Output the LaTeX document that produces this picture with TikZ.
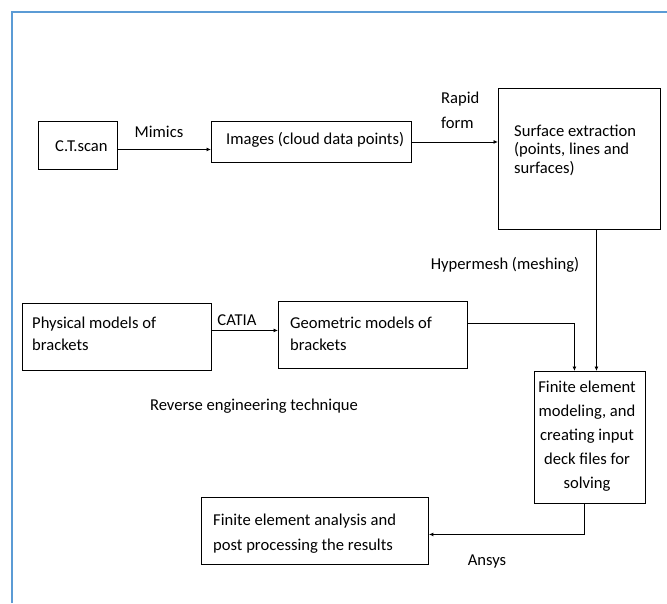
\documentclass[tikz,border=0pt]{standalone}
\usepackage{fontspec}
\setmainfont{Carlito}
\usetikzlibrary{arrows.meta}
\definecolor{frameblue}{RGB}{91,155,213}
\begin{document}
\begin{tikzpicture}[x=1pt,y=-1pt,
 box/.style={draw, line width=0.9pt, inner sep=0pt, anchor=north west},
 txt/.style={inner sep=0pt, font=\fontsize{16.6}{19}\selectfont, align=left},
 lbl/.style={inner sep=0pt, font=\fontsize{16.6}{19}\selectfont},
 arr/.style={line width=0.9pt, -{Latex[length=4.5pt,width=4pt]}}]
\useasboundingbox (0,0) rectangle (667,603);
\draw[frameblue, line width=2pt] (11.5,603) -- (11.5,11.5) -- (667,11.5);
% boxes
\node[box, minimum width=79pt, minimum height=48pt] (ct) at (38,121) {};
\node[box, minimum width=200pt, minimum height=41pt] (img) at (211,121) {};
\node[box, minimum width=162pt, minimum height=141pt] (surf) at (498,88) {};
\node[box, minimum width=189pt, minimum height=67pt] (phys) at (22,303) {};
\node[box, minimum width=189pt, minimum height=67pt] (geo) at (278,301) {};
\node[box, minimum width=111pt, minimum height=132pt] (fem) at (534,371) {};
\node[box, minimum width=227pt, minimum height=67pt] (fea) at (201,497) {};
% box texts
\node[txt, anchor=west] (ctt) at (55,146) {C.T.scan};
\node[txt, anchor=west] (imgt) at (226,140) {Images (cloud data points)};
\node[txt, anchor=west, font=\fontsize{16.6}{18.5}\selectfont] (surft) at (514,150) {Surface extraction\\(points, lines and\\surfaces)};
\node[txt, anchor=west, font=\fontsize{16.6}{22}\selectfont] (physt) at (32,334) {Physical models of\\brackets};
\node[txt, anchor=west, font=\fontsize{16.6}{22}\selectfont] (geot) at (290,334) {Geometric models of\\brackets};
\node[txt, align=center, font=\fontsize{16.6}{24}\selectfont] (femt) at (587,436) {Finite element\\modeling, and\\creating input\\deck files for\\solving};
\node[txt, anchor=west, font=\fontsize{16.6}{25}\selectfont] (feat) at (213,534) {Finite element analysis and\\post processing the results};
% labels
\node[lbl] (mimics) at (159,132) {Mimics};
\node[txt, anchor=west, font=\fontsize{16.6}{25}\selectfont] (rapid) at (441,110.5) {Rapid\\form};
\node[lbl] (hyper) at (505,265) {Hypermesh (meshing)};
\node[lbl] (catia) at (237,320) {CATIA};
\node[lbl] (reverse) at (254,406) {Reverse engineering technique};
\node[lbl] (ansys) at (487,562) {Ansys};
% connectors
\draw[arr] ([yshift=-4pt]ct.east) -- ([yshift=-4pt]ct.east -| img.west);
\draw[arr] (img.east) -- (img.east -| surf.west);
\draw[arr] ([xshift=17pt]surf.south) -- ([xshift=17pt]surf.south |- fem.north);
\draw[arr] ([yshift=6.5pt]phys.east) -- ([yshift=6.5pt]phys.east -| geo.west);
\draw[arr] ([yshift=11.5pt]geo.east) -| ([xshift=-15.5pt]fem.north);
\draw[arr] ([xshift=-5.5pt]fem.south) |- ([yshift=-3.5pt]fea.east);
\end{tikzpicture}
\end{document}
